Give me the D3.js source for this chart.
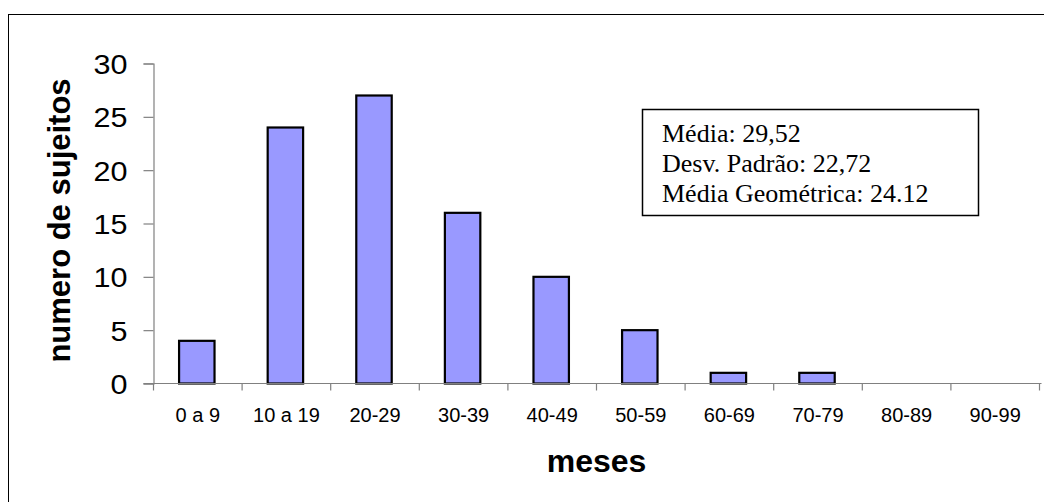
<!DOCTYPE html>
<html><head><meta charset="utf-8">
<script src="https://cdn.jsdelivr.net/npm/d3@7"></script>
<style>body{margin:0;background:#fff}svg{display:block}</style>
</head><body>
<script>
const categories = ["0 a 9","10 a 19","20-29","30-39","40-49","50-59","60-69","70-79","80-89","90-99"];
const counts = [4,24,27,16,10,5,1,1,0,0];
const yTicks = [0,5,10,15,20,25,30];
const statsLines = ["Média: 29,52","Desv. Padrão: 22,72","Média Geométrica: 24.12"];
const xTitle = "meses";
const yTitle = "numero de sujeitos";

(function () {
const W = 1044, H = 502;
const svg = d3.select("body").append("svg").attr("width", W).attr("height", H);
svg.append("rect").attr("x", 8.5).attr("y", 14.5).attr("width", 1060).attr("height", 520)
  .attr("fill", "none").attr("stroke", "#000").attr("stroke-width", 1);

const pL = 153.5, pR = 1039.5, pT = 63.5, pB = 383.5;
const x = d3.scaleBand().domain(categories).range([pL, pR]).paddingInner(0).paddingOuter(0);
const y = d3.scaleLinear().domain([0, 30]).range([pB, pT]);

const gY = svg.append("g").attr("transform", `translate(${pL},0)`)
  .call(d3.axisLeft(y).tickValues(yTicks).tickSize(10).tickPadding(16));
gY.select(".domain").attr("stroke", "#808080").attr("stroke-width", 1.2);
gY.selectAll(".tick line").attr("stroke", "#808080").attr("stroke-width", 1.2);
gY.selectAll(".tick text").attr("font-family", "Arial, 'Liberation Sans', sans-serif")
  .attr("font-size", 28).attr("fill", "#000").attr("dy", "0.36em")
  .attr("textLength", d => d >= 10 ? 34 : 17).attr("lengthAdjust", "spacingAndGlyphs");

const bw = x.bandwidth();
svg.append("g").selectAll("rect").data(counts).join("rect")
  .attr("x", (d, i) => x(categories[i]) + bw * 0.3 - 1)
  .attr("width", bw * 0.4)
  .attr("y", d => y(d))
  .attr("height", d => y(0) - y(d))
  .attr("fill", "#9999FF").attr("stroke", "#000").attr("stroke-width", 2.2)
  .attr("display", d => d > 0 ? null : "none");

const gX = svg.append("g").attr("transform", `translate(0,${pB})`)
  .call(d3.axisBottom(x).tickSize(0).tickPadding(0));
gX.select(".domain").attr("stroke", "#808080").attr("stroke-width", 1.2).attr("d", `M${pL - 10},0H${pR + 2}`);
gX.selectAll(".tick text").attr("font-family", "Arial, 'Liberation Sans', sans-serif")
  .attr("font-size", 20).attr("fill", "#000").attr("y", 38).attr("dy", 0);
const bounds = categories.map(c => x(c)).concat([pR]);
gX.selectAll("line.bnd").data(bounds).join("line").attr("class", "bnd")
  .attr("x1", d => d).attr("x2", d => d).attr("y1", 0).attr("y2", 7)
  .attr("stroke", "#808080").attr("stroke-width", 1.2);

svg.append("text").attr("x", (pL + pR) / 2).attr("y", 472).attr("text-anchor", "middle")
  .attr("font-family", "Arial, 'Liberation Sans', sans-serif").attr("font-weight", "bold")
  .attr("font-size", 32).text(xTitle);
svg.append("text").attr("transform", `translate(70,${(pT + pB) / 2 - 3}) rotate(-90)`)
  .attr("text-anchor", "middle")
  .attr("font-family", "Arial, 'Liberation Sans', sans-serif").attr("font-weight", "bold")
  .attr("font-size", 31).text(yTitle);

svg.append("rect").attr("x", 642.5).attr("y", 109.5).attr("width", 336).attr("height", 106)
  .attr("fill", "#fff").attr("stroke", "#000").attr("stroke-width", 1.5);
svg.append("g").selectAll("text").data(statsLines).join("text")
  .attr("x", 662).attr("y", (d, i) => 142 + i * 30)
  .attr("font-family", "'Times New Roman', 'Liberation Serif', serif")
  .attr("font-size", 26).attr("fill", "#000").text(d => d);
})();
</script>
</body></html>
